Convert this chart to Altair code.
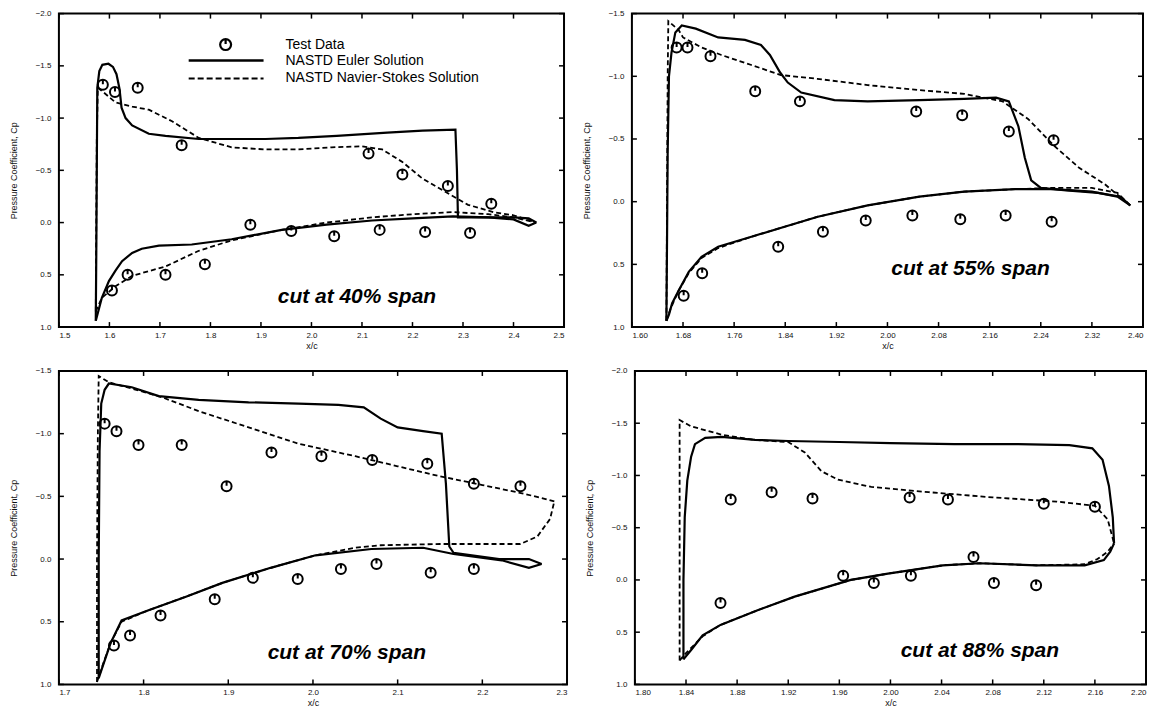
import altair as alt
import pandas as pd

FONT = "Liberation Sans"

# ---------------- legend / labels ----------------
legend_labels = ["Test Data", "NASTD Euler Solution", "NASTD Navier-Stokes Solution"]
cut_labels = ["cut at 40% span", "cut at 55% span", "cut at 70% span", "cut at 88% span"]
cut_x = [2.09, 2.13, 2.04, 2.07]
cut_cp = [0.71, 0.54, 0.75, 0.68]

# ---------------- Panel 1 : 40% span ----------------
p1_xticks = [1.5, 1.6, 1.7, 1.8, 1.9, 2.0, 2.1, 2.2, 2.3, 2.4, 2.5]
p1_yticks = [-2.0, -1.5, -1.0, -0.5, 0.0, 0.5, 1.0]
p1_eu_up_x = [1.573, 1.574, 1.575, 1.576, 1.580, 1.586, 1.598, 1.607, 1.614, 1.620, 1.624, 1.632, 1.645, 1.678, 1.711, 1.777, 1.850, 1.909, 1.974, 2.050, 2.150, 2.220, 2.285, 2.288, 2.290, 2.350, 2.400, 2.430, 2.445]
p1_eu_up_cp = [0.94, 0.30, -0.50, -1.29, -1.45, -1.51, -1.52, -1.49, -1.42, -1.28, -1.10, -1.00, -0.93, -0.85, -0.83, -0.80, -0.80, -0.80, -0.81, -0.83, -0.86, -0.88, -0.89, -0.50, -0.05, -0.05, -0.05, -0.04, 0.00]
p1_eu_lo_x = [1.573, 1.585, 1.599, 1.612, 1.625, 1.645, 1.664, 1.698, 1.763, 1.842, 1.941, 2.030, 2.120, 2.200, 2.280, 2.350, 2.400, 2.430, 2.445]
p1_eu_lo_cp = [0.94, 0.72, 0.56, 0.46, 0.37, 0.29, 0.25, 0.22, 0.21, 0.16, 0.07, 0.02, -0.02, -0.04, -0.06, -0.05, -0.03, 0.03, 0.00]
p1_ns_up_x = [1.573, 1.574, 1.575, 1.577, 1.590, 1.612, 1.645, 1.678, 1.724, 1.777, 1.842, 1.909, 1.974, 2.040, 2.100, 2.140, 2.180, 2.220, 2.270, 2.310, 2.360, 2.400, 2.445]
p1_ns_up_cp = [0.85, 0.00, -0.80, -1.29, -1.24, -1.15, -1.11, -1.08, -0.97, -0.81, -0.72, -0.70, -0.70, -0.72, -0.73, -0.70, -0.58, -0.42, -0.28, -0.17, -0.10, -0.07, 0.00]
p1_ns_lo_x = [1.573, 1.585, 1.612, 1.645, 1.711, 1.777, 1.842, 1.941, 2.030, 2.120, 2.200, 2.280, 2.350, 2.400, 2.445]
p1_ns_lo_cp = [0.85, 0.72, 0.61, 0.51, 0.42, 0.27, 0.17, 0.07, 0.00, -0.05, -0.08, -0.10, -0.08, -0.05, 0.00]
p1_test_x = [1.587, 1.611, 1.656, 1.743, 2.113, 2.180, 2.270, 2.356,
             1.605, 1.636, 1.711, 1.789, 1.879, 1.960, 2.045, 2.135, 2.225, 2.314]
p1_test_cp = [-1.32, -1.25, -1.29, -0.74, -0.66, -0.46, -0.35, -0.18,
              0.65, 0.50, 0.50, 0.40, 0.02, 0.08, 0.13, 0.07, 0.09, 0.10]

# ---------------- Panel 2 : 55% span ----------------
p2_xticks = [1.60, 1.68, 1.76, 1.84, 1.92, 2.00, 2.08, 2.16, 2.24, 2.32, 2.40]
p2_yticks = [-1.5, -1.0, -0.5, 0.0, 0.5, 1.0]
p2_eu_up_x = [1.654, 1.655, 1.656, 1.658, 1.662, 1.668, 1.678, 1.700, 1.735, 1.777, 1.802, 1.816, 1.832, 1.844, 1.865, 1.917, 1.969, 2.050, 2.120, 2.170, 2.190, 2.205, 2.215, 2.225, 2.240, 2.280, 2.330, 2.365, 2.380]
p2_eu_up_cp = [0.95, 0.30, -0.40, -1.00, -1.19, -1.35, -1.405, -1.38, -1.31, -1.29, -1.25, -1.17, -1.03, -0.95, -0.87, -0.81, -0.80, -0.81, -0.82, -0.83, -0.80, -0.60, -0.35, -0.17, -0.11, -0.09, -0.07, -0.04, 0.03]
p2_eu_lo_x = [1.654, 1.658, 1.663, 1.673, 1.689, 1.709, 1.735, 1.787, 1.839, 1.891, 1.969, 2.050, 2.120, 2.200, 2.260, 2.320, 2.360, 2.380]
p2_eu_lo_cp = [0.95, 0.90, 0.81, 0.71, 0.56, 0.44, 0.36, 0.28, 0.20, 0.12, 0.03, -0.04, -0.08, -0.10, -0.10, -0.08, -0.04, 0.03]
p2_ns_up_x = [1.654, 1.655, 1.656, 1.657, 1.673, 1.680, 1.709, 1.740, 1.787, 1.833, 1.890, 1.969, 2.050, 2.120, 2.180, 2.220, 2.260, 2.300, 2.340, 2.380]
p2_ns_up_cp = [0.95, 0.00, -1.00, -1.44, -1.37, -1.31, -1.23, -1.17, -1.09, -1.01, -0.98, -0.93, -0.89, -0.86, -0.80, -0.66, -0.45, -0.27, -0.14, 0.03]
p2_ns_lo_x = [1.654, 1.660, 1.673, 1.689, 1.709, 1.735, 1.787, 1.839, 1.891, 1.969, 2.050, 2.120, 2.200, 2.260, 2.320, 2.360, 2.380]
p2_ns_lo_cp = [0.95, 0.86, 0.71, 0.57, 0.45, 0.37, 0.28, 0.20, 0.12, 0.03, -0.04, -0.08, -0.10, -0.11, -0.11, -0.07, 0.03]
p2_test_x = [1.670, 1.687, 1.723, 1.793, 1.863, 2.045, 2.117, 2.190, 2.260,
             1.681, 1.710, 1.829, 1.899, 1.966, 2.039, 2.114, 2.185, 2.257]
p2_test_cp = [-1.23, -1.23, -1.16, -0.88, -0.80, -0.72, -0.69, -0.56, -0.49,
              0.75, 0.57, 0.36, 0.24, 0.15, 0.11, 0.14, 0.11, 0.16]

# ---------------- Panel 3 : 70% span ----------------
p3_xticks = [1.7, 1.8, 1.9, 2.0, 2.1, 2.2, 2.3]
p3_yticks = [-1.5, -1.0, -0.5, 0.0, 0.5, 1.0]
p3_eu_up_x = [1.747, 1.747, 1.748, 1.750, 1.754, 1.759, 1.786, 1.818, 1.865, 1.924, 1.983, 2.030, 2.060, 2.080, 2.100, 2.130, 2.152, 2.157, 2.161, 2.166, 2.220, 2.255, 2.270]
p3_eu_up_cp = [0.95, 0.00, -0.86, -1.24, -1.35, -1.40, -1.37, -1.30, -1.27, -1.25, -1.24, -1.23, -1.21, -1.12, -1.05, -1.02, -1.00, -0.60, -0.10, -0.05, 0.00, 0.00, 0.04]
p3_eu_lo_x = [1.747, 1.752, 1.761, 1.774, 1.805, 1.850, 1.893, 1.950, 2.003, 2.069, 2.130, 2.166, 2.223, 2.255, 2.270]
p3_eu_lo_cp = [0.95, 0.85, 0.67, 0.49, 0.41, 0.30, 0.19, 0.07, -0.03, -0.08, -0.09, -0.04, 0.01, 0.07, 0.04]
p3_ns_up_x = [1.745, 1.745, 1.746, 1.747, 1.759, 1.786, 1.822, 1.865, 1.924, 1.983, 2.050, 2.100, 2.150, 2.200, 2.250, 2.285]
p3_ns_up_cp = [0.98, 0.00, -1.00, -1.46, -1.41, -1.36, -1.29, -1.18, -1.05, -0.92, -0.82, -0.74, -0.66, -0.59, -0.52, -0.46]
p3_ns_lo_x = [1.745, 1.752, 1.761, 1.774, 1.805, 1.850, 1.893, 1.950, 2.003, 2.050, 2.080, 2.150, 2.200, 2.245, 2.265, 2.280, 2.285]
p3_ns_lo_cp = [0.98, 0.84, 0.67, 0.50, 0.41, 0.30, 0.19, 0.07, -0.03, -0.09, -0.11, -0.12, -0.12, -0.12, -0.18, -0.32, -0.46]
p3_test_x = [1.754, 1.768, 1.794, 1.845, 1.898, 1.951, 2.010, 2.070, 2.135, 2.190, 2.245,
             1.765, 1.784, 1.820, 1.884, 1.929, 1.982, 2.033, 2.075, 2.139, 2.190]
p3_test_cp = [-1.08, -1.02, -0.91, -0.91, -0.58, -0.85, -0.82, -0.79, -0.76, -0.60, -0.58,
              0.69, 0.61, 0.45, 0.32, 0.15, 0.16, 0.08, 0.04, 0.11, 0.08]

# ---------------- Panel 4 : 88% span ----------------
p4_xticks = [1.80, 1.84, 1.88, 1.92, 1.96, 2.00, 2.04, 2.08, 2.12, 2.16, 2.20]
p4_yticks = [-2.0, -1.5, -1.0, -0.5, 0.0, 0.5, 1.0]
p4_eu_up_x = [1.838, 1.838, 1.839, 1.841, 1.844, 1.847, 1.855, 1.868, 1.894, 1.920, 1.960, 2.000, 2.050, 2.100, 2.140, 2.158, 2.166, 2.171, 2.174, 2.175]
p4_eu_up_cp = [0.76, 0.00, -0.60, -0.95, -1.18, -1.30, -1.36, -1.37, -1.34, -1.33, -1.32, -1.31, -1.30, -1.30, -1.29, -1.26, -1.15, -0.90, -0.60, -0.35]
p4_eu_lo_x = [1.838, 1.844, 1.853, 1.867, 1.896, 1.925, 1.969, 1.998, 2.041, 2.070, 2.114, 2.152, 2.167, 2.172, 2.175]
p4_eu_lo_cp = [0.76, 0.67, 0.53, 0.43, 0.29, 0.16, 0.00, -0.06, -0.14, -0.16, -0.14, -0.14, -0.19, -0.27, -0.35]
p4_ns_up_x = [1.835, 1.835, 1.835, 1.835, 1.844, 1.868, 1.894, 1.920, 1.933, 1.946, 1.959, 1.985, 2.030, 2.080, 2.130, 2.160, 2.170, 2.175]
p4_ns_up_cp = [0.77, 0.00, -1.00, -1.53, -1.47, -1.39, -1.34, -1.32, -1.22, -1.04, -0.96, -0.89, -0.84, -0.79, -0.75, -0.71, -0.58, -0.35]
p4_ns_lo_x = [1.835, 1.840, 1.853, 1.867, 1.896, 1.925, 1.969, 1.998, 2.041, 2.070, 2.114, 2.152, 2.162, 2.170, 2.175]
p4_ns_lo_cp = [0.77, 0.70, 0.54, 0.43, 0.29, 0.16, 0.00, -0.06, -0.14, -0.16, -0.14, -0.15, -0.20, -0.27, -0.35]
p4_test_x = [1.875, 1.907, 1.939, 2.015, 2.045, 2.120, 2.160,
             1.867, 1.963, 1.987, 2.016, 2.065, 2.081, 2.114]
p4_test_cp = [-0.77, -0.84, -0.78, -0.79, -0.77, -0.73, -0.70,
              0.22, -0.04, 0.03, -0.04, -0.22, 0.03, 0.05]

MARKER = "M0,-1A1,1,0,1,1,0,1A1,1,0,1,1,0,-1Z M0,-1L0,-0.1"


def lines_df(curves):
    rows = []
    for name, xs, ys in curves:
        for i, (a, b) in enumerate(zip(xs, ys)):
            rows.append({"x": a, "cp": b, "curve": name, "seq": i})
    return pd.DataFrame(rows)


def make_panel(xdom, ydom, xticks, yticks, xfmt, W, H, euler, ns, tx, tcp,
               label, lx, ly, legend=False):
    xs = alt.Scale(domain=xdom, nice=False, zero=False)
    ys = alt.Scale(domain=ydom, reverse=True, nice=False, zero=False)
    xaxis = alt.Axis(values=xticks, format=xfmt, title="x/c", domain=False, ticks=False,
                     grid=False, labelFontSize=8, labelPadding=4, minExtent=12,
                     maxExtent=12, titlePadding=2, titleFontSize=9,
                     titleFontWeight="normal", labelOverlap=False, labelColor="#111",
                     titleColor="#111")
    yaxis = alt.Axis(values=yticks, format=".1f", title="Pressure Coefficient, Cp",
                     domain=False, ticks=False, grid=False, labelFontSize=8,
                     labelPadding=8, minExtent=38, maxExtent=38, titlePadding=2,
                     titleFontSize=9, titleFontWeight="normal", labelOverlap=False,
                     labelColor="#111", titleColor="#111")

    def X(f):
        return alt.X(f, scale=xs, axis=xaxis)

    def Y(f):
        return alt.Y(f, scale=ys, axis=yaxis)

    eu = alt.Chart(lines_df(euler)).mark_line(color="black", strokeWidth=2.2).encode(
        x=X("x:Q"), y=Y("cp:Q"), detail="curve:N", order=alt.Order("seq:Q"))
    nsl = alt.Chart(lines_df(ns)).mark_line(color="black", strokeWidth=1.8,
                                             strokeDash=[5, 3]).encode(
        x=X("x:Q"), y=Y("cp:Q"), detail="curve:N", order=alt.Order("seq:Q"))
    pts = alt.Chart(pd.DataFrame({"x": tx, "cp": tcp})).mark_point(
        shape=MARKER, filled=False, color="black", strokeWidth=2, size=100, opacity=1).encode(
        x=X("x:Q"), y=Y("cp:Q"))
    txt = alt.Chart(pd.DataFrame({"x": [lx], "cp": [ly], "t": [label]})).mark_text(
        font=FONT, fontSize=21, fontWeight="bold", fontStyle="italic", color="black").encode(
        x=X("x:Q"), y=Y("cp:Q"), text="t:N")
    xt = pd.DataFrame({"x": xticks})
    yt = pd.DataFrame({"cp": yticks})
    tk_top = alt.Chart(xt).mark_rule(color="black", strokeWidth=1.5).encode(
        x=X("x:Q"), y=alt.value(0), y2=alt.value(5))
    tk_bot = alt.Chart(xt).mark_rule(color="black", strokeWidth=1.5).encode(
        x=X("x:Q"), y=alt.value(H - 5), y2=alt.value(H))
    tk_l = alt.Chart(yt).mark_rule(color="black", strokeWidth=1.5).encode(
        y=Y("cp:Q"), x=alt.value(0), x2=alt.value(5))
    tk_r = alt.Chart(yt).mark_rule(color="black", strokeWidth=1.5).encode(
        y=Y("cp:Q"), x=alt.value(W - 5), x2=alt.value(W))
    layers = [eu, nsl, pts, txt, tk_top, tk_bot, tk_l, tk_r]
    if legend:
        lg_pt = alt.Chart(pd.DataFrame({"a": [0]})).mark_point(
            shape=MARKER, filled=False, color="black", strokeWidth=2.2, size=120, opacity=1).encode(
            x=alt.value(167), y=alt.value(31))
        lg_l1 = alt.Chart(pd.DataFrame({"a": [0]})).mark_rule(
            color="black", strokeWidth=2.4).encode(
            x=alt.value(130), x2=alt.value(205), y=alt.value(47))
        lg_l2 = alt.Chart(pd.DataFrame({"a": [0]})).mark_rule(
            color="black", strokeWidth=2.2, strokeDash=[6, 3]).encode(
            x=alt.value(130), x2=alt.value(205), y=alt.value(65))
        lg_txt = []
        for lab, yy in zip(legend_labels, [31, 47, 65]):
            lg_txt.append(alt.Chart(pd.DataFrame({"t": [lab]})).mark_text(
                font=FONT, fontSize=14, align="left", baseline="middle",
                color="black").encode(text="t:N", x=alt.value(227), y=alt.value(yy)))
        layers += [lg_pt, lg_l1, lg_l2] + lg_txt
    return alt.layer(*layers).properties(width=W, height=H)


H = 314
p1 = make_panel([1.5, 2.5], [-2.0, 1.0], p1_xticks, p1_yticks, ".1f", 506, H,
                [("u", p1_eu_up_x, p1_eu_up_cp), ("l", p1_eu_lo_x, p1_eu_lo_cp)],
                [("u", p1_ns_up_x, p1_ns_up_cp), ("l", p1_ns_lo_x, p1_ns_lo_cp)],
                p1_test_x, p1_test_cp, cut_labels[0], cut_x[0], cut_cp[0], legend=True)
p2 = make_panel([1.6, 2.4], [-1.5, 1.0], p2_xticks, p2_yticks, ".2f", 512, H,
                [("u", p2_eu_up_x, p2_eu_up_cp), ("l", p2_eu_lo_x, p2_eu_lo_cp)],
                [("u", p2_ns_up_x, p2_ns_up_cp), ("l", p2_ns_lo_x, p2_ns_lo_cp)],
                p2_test_x, p2_test_cp, cut_labels[1], cut_x[1], cut_cp[1])
p3 = make_panel([1.7, 2.3], [-1.5, 1.0], p3_xticks, p3_yticks, ".1f", 509, H,
                [("u", p3_eu_up_x, p3_eu_up_cp), ("l", p3_eu_lo_x, p3_eu_lo_cp)],
                [("u", p3_ns_up_x, p3_ns_up_cp), ("l", p3_ns_lo_x, p3_ns_lo_cp)],
                p3_test_x, p3_test_cp, cut_labels[2], cut_x[2], cut_cp[2])
p4 = make_panel([1.8, 2.2], [-2.0, 1.0], p4_xticks, p4_yticks, ".2f", 512, H,
                [("u", p4_eu_up_x, p4_eu_up_cp), ("l", p4_eu_lo_x, p4_eu_lo_cp)],
                [("u", p4_ns_up_x, p4_ns_up_cp), ("l", p4_ns_lo_x, p4_ns_lo_cp)],
                p4_test_x, p4_test_cp, cut_labels[3], cut_x[3], cut_cp[3])

row1 = alt.hconcat(p1, p2, spacing=16)
row2 = alt.hconcat(p3, p4, spacing=16)
chart = alt.vconcat(row1, row2, spacing=15).properties(
    padding={"left": 1, "top": 0, "right": 0, "bottom": 0}
).configure_view(stroke="black", strokeWidth=2).configure_axis(
    labelFont=FONT, titleFont=FONT)

chart.save("out.html", embed_options={"renderer": "svg", "actions": False})
